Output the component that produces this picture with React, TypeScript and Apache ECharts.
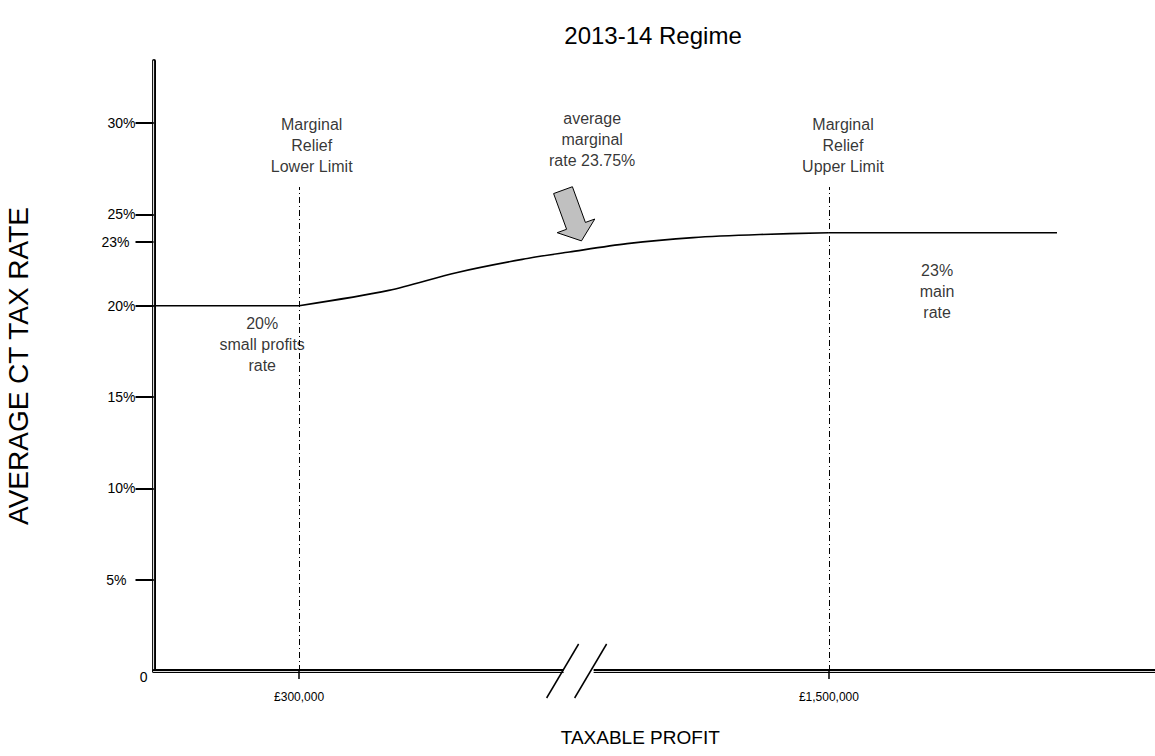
import React, { useEffect, useRef } from 'react';
import * as echarts from 'echarts';

// ---- data ----
const yTickValues = [0, 5, 10, 15, 20, 23.5, 25, 30];
const yTickLabels = ['0', '5%', '10%', '15%', '20%', '23%', '25%', '30%'];
const xTickValues = [300, 1500];
const xTickLabels = ['£300,000', '£1,500,000'];
// taxable profit (£k) and average CT rate (%)
const profitK = [0, 300, 485, 624, 760, 857, 1084, 1220, 1358, 1500, 1970];
const avgRate = [20, 20, 20.84, 21.81, 22.54, 22.94, 23.4, 23.73, 23.9, 24, 24];
const limitsK = [300, 1500];
const limitTop = 26.5;
const breakStart = 872;
const breakEnd = 980;
const annotationX = [326, 1012, 1529, 224, 1723];
const annotationY = [28.8, 29.1, 28.8, 17.9, 20.8];
const annotationText = [
  'Marginal\nRelief\nLower Limit',
  'average\nmarginal\nrate 23.75%',
  'Marginal\nRelief\nUpper Limit',
  '20%\nsmall profits\nrate',
  '23%\nmain\nrate',
];
const arrowTip = [990, 23.55];

const FONT = '"Liberation Sans", Arial, Helvetica, sans-serif';

export default function App() {
  const ref = useRef<HTMLDivElement>(null);
  useEffect(() => {
    if (!ref.current) return;
    const chart = echarts.init(ref.current, undefined, { renderer: 'svg' });
    const labelMap: Record<string, string> = {};
    yTickValues.forEach((v, i) => (labelMap[String(v)] = yTickLabels[i]));
    const xLabelMap: Record<string, string> = {};
    xTickValues.forEach((v, i) => (xLabelMap[String(v)] = xTickLabels[i]));

    const xBase: any = {
      type: 'value',
      min: 0,
      max: 2172,
      breaks: [{ start: breakStart, end: breakEnd, gap: 0 }],
      breakArea: { show: false },
      splitLine: { show: false },
    };
    const yBase: any = {
      type: 'value',
      min: 0,
      max: 33.4,
      splitLine: { show: false },
    };

    const pts = profitK.map((k, i) => [k, avgRate[i]]);
    const iLow = profitK.indexOf(limitsK[0]);
    const iUp = profitK.indexOf(limitsK[1]);
    const lineCommon: any = {
      type: 'line',
      showSymbol: false,
      lineStyle: { color: '#000', width: 1.6 },
      silent: true,
      z: 5,
    };

    chart.setOption({
      animation: false,
      title: {
        text: '2013-14 Regime',
        left: 648,
        textAlign: 'center',
        top: 18,
        textStyle: { fontFamily: FONT, fontSize: 24, fontWeight: 'normal', color: '#000' },
      },
      grid: { left: 153.5, right: 0, top: 61, bottom: 85, containLabel: false, outerBoundsMode: 'none' },
      xAxis: [
        {
          ...xBase,
          name: 'TAXABLE PROFIT',
          nameLocation: 'middle',
          nameGap: 57,
          nameTextStyle: { fontFamily: FONT, fontSize: 19, color: '#000', padding: [0, 28, 0, 0] },
          axisLine: { show: true, lineStyle: { color: '#000', width: 4 } },
          axisTick: { show: true, customValues: xTickValues, length: 8, lineStyle: { color: '#000', width: 1.5 } },
          axisLabel: {
            show: true,
            customValues: xTickValues,
            formatter: (v: number) => xLabelMap[String(v)] ?? '',
            margin: 20,
            fontFamily: FONT,
            fontSize: 12,
            color: '#000',
          },
        },
        {
          ...xBase,
          axisLine: { show: true, lineStyle: { color: '#dcdcdc', width: 1.2 } },
          axisTick: { show: false },
          axisLabel: { show: false },
        },
      ],
      yAxis: [
        {
          ...yBase,
          name: 'AVERAGE CT TAX RATE',
          nameLocation: 'middle',
          nameGap: 121,
          nameRotate: 90,
          nameTextStyle: { fontFamily: FONT, fontSize: 28, color: '#000' },
          axisLine: { show: true, lineStyle: { color: '#000', width: 4 } },
          axisTick: { show: true, customValues: yTickValues.filter((v) => v !== 0), length: 18, lineStyle: { color: '#000', width: 2 } },
          axisLabel: {
            show: true,
            customValues: yTickValues,
            margin: 6,
            formatter: (v: number) => {
              const t = labelMap[String(v)] ?? '';
              if (v === 0) return '{z|' + t + '}';
              if (t === '5%') return '{f|' + t + '}';
              if (t === '23%') return '{t|' + t + '}';
              return '{a|' + t + '}';
            },
            rich: {
              a: { fontFamily: FONT, fontSize: 14, color: '#000', padding: [0, 12, 0, 0] },
              f: { fontFamily: FONT, fontSize: 14, color: '#000', padding: [0, 21, 0, 0] },
              t: { fontFamily: FONT, fontSize: 14, color: '#000', padding: [0, 18, 0, 0] },
              z: { fontFamily: FONT, fontSize: 14, color: '#000', padding: [12, 0, 0, 0] },
            },
          },
        },
        {
          ...yBase,
          axisLine: { show: true, lineStyle: { color: '#dcdcdc', width: 1.2 } },
          axisTick: { show: true, inside: true, customValues: [5, 10, 15, 20, 25, 30], length: 4, lineStyle: { color: '#000', width: 2 } },
          axisLabel: { show: false },
        },
      ],
      series: [
        {
          ...lineCommon,
          data: pts.slice(0, iLow + 1),
          markLine: {
            silent: true,
            symbol: ['none', 'none'],
            label: { show: false },
            lineStyle: { color: '#000', width: 1, type: [6, 3, 1, 3] },
            data: limitsK.map((v) => [{ coord: [v, 0] }, { coord: [v, limitTop] }]),
          },
        },
        {
          ...lineCommon,
          data: pts.slice(iLow, iUp + 1),
          smooth: 0.3,
        },
        {
          ...lineCommon,
          data: pts.slice(iUp),
        },
        {
          type: 'scatter',
          symbolSize: 0,
          silent: true,
          data: annotationX.map((x, i) => [x, annotationY[i], annotationText[i]]),
          label: {
            show: true,
            position: 'inside',
            formatter: (p: any) => p.data[2],
            fontFamily: FONT,
            fontSize: 16,
            lineHeight: 21,
            color: '#000',
            align: 'center',
          },
        },
      ],
    });

    // decorations: axis-break marks and the arrow
    const bx = chart.convertToPixel({ xAxisIndex: 0, yAxisIndex: 0 }, [breakStart, 0]) as number[];
    const tip = chart.convertToPixel({ xAxisIndex: 0, yAxisIndex: 0 }, arrowTip) as number[];
    const ang = (20 * Math.PI) / 180;
    const s = Math.sin(ang);
    const c = Math.cos(ang);
    const local = [
      [0, 0], [20, -16], [10, -16], [10, -54], [-10, -54], [-10, -16], [-20, -16],
    ];
    const arrowPts = local.map(([x, y]) => [tip[0] + x * c + y * s, tip[1] - x * s + y * c]);

    chart.setOption({
      graphic: [
        { type: 'rect', shape: { x: bx[0] - 13, y: bx[1] - 4, width: 30, height: 8 }, style: { fill: '#fff' }, z: 50 },
        { type: 'line', shape: { x1: bx[0] - 30, y1: bx[1] + 27, x2: bx[0] + 2, y2: bx[1] - 27 }, style: { stroke: '#000', lineWidth: 1.5 }, z: 51 },
        { type: 'line', shape: { x1: bx[0] - 2, y1: bx[1] + 27, x2: bx[0] + 30, y2: bx[1] - 27 }, style: { stroke: '#000', lineWidth: 1.5 }, z: 51 },
        { type: 'polygon', shape: { points: arrowPts }, style: { fill: '#c0c0c0', stroke: '#000', lineWidth: 1 }, z: 52 },
      ],
    });

    return () => chart.dispose();
  }, []);
  return (
    <div
      ref={ref}
      style={{ position: 'fixed', left: 0, top: 0, width: 1155, height: 756, background: '#fff' }}
    />
  );
}
